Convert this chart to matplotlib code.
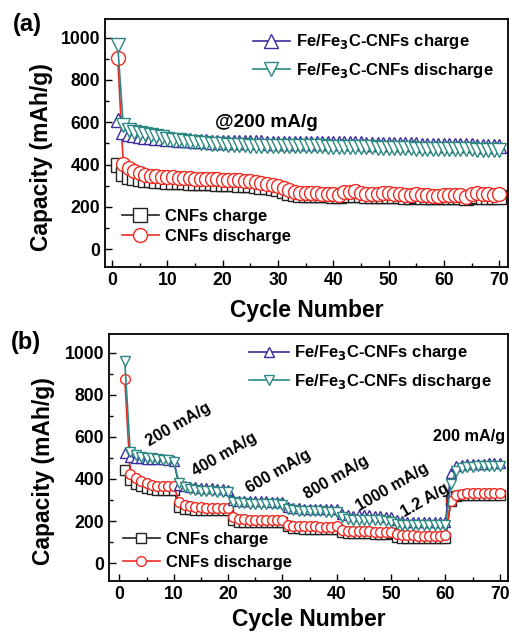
import numpy as np
import matplotlib
matplotlib.use('Agg')
import matplotlib.pyplot as plt
from matplotlib.ticker import MultipleLocator

plt.rcParams['font.family'] = ['Liberation Sans', 'DejaVu Sans']
plt.rcParams['font.weight'] = 'bold'
plt.rcParams['mathtext.default'] = 'bf'

cycles = np.arange(1, 71)

# (a) cycling at 200 mA/g
a_fe_chg = [610, 555, 545, 540, 535, 532, 530, 527, 525, 522, 520, 518, 516, 514, 512, 511, 510, 509, 508, 508,
            507, 507, 506, 506, 505, 505, 505, 504, 504, 504, 504, 503, 503, 503, 503, 503, 502, 502, 502, 502,
            501, 501, 500, 500, 500, 499, 498, 498, 497, 497, 496, 496, 495, 495, 495, 494, 494, 493, 493, 493,
            492, 492, 491, 491, 491, 490, 490, 490, 489, 489]
a_fe_dis = [965, 585, 565, 555, 548, 543, 538, 533, 528, 522, 518, 515, 512, 508, 505, 502, 500, 498, 496, 495,
            494, 493, 492, 491, 490, 490, 489, 489, 488, 488, 488, 487, 487, 487, 486, 486, 486, 486, 485, 485,
            485, 484, 484, 483, 483, 482, 481, 480, 480, 479, 478, 478, 477, 477, 476, 476, 475, 475, 474, 474,
            473, 473, 472, 472, 472, 471, 471, 470, 470, 470]
a_cnf_chg = [400, 355, 342, 336, 330, 327, 325, 323, 321, 320, 318, 317, 316, 315, 314, 313, 312, 311, 310, 308,
             307, 306, 305, 304, 303, 300, 296, 292, 288, 284, 276, 268, 260, 257, 256, 255, 255, 254, 254, 253,
             252, 255, 258, 258, 254, 252, 252, 252, 253, 253, 252, 250, 249, 248, 250, 247, 246, 246, 245, 245,
             246, 246, 245, 240, 248, 250, 249, 248, 247, 248]
a_cnf_dis = [905, 405, 385, 370, 360, 352, 348, 345, 343, 342, 340, 338, 336, 335, 334, 333, 332, 331, 330, 328,
             327, 326, 325, 324, 322, 318, 313, 307, 302, 298, 290, 280, 272, 268, 266, 265, 264, 263, 262, 261,
             258, 270, 272, 275, 265, 262, 262, 263, 264, 264, 262, 260, 258, 257, 262, 255, 254, 253, 253, 254,
             255, 256, 255, 245, 262, 265, 262, 260, 258, 260]

# (b) rate performance
b_fe_chg = [525, 505, 500, 498, 497, 496, 495, 493, 490, 485, 370, 365, 362, 360, 358, 357, 355, 354, 352, 350,
            300, 297, 296, 295, 295, 294, 294, 293, 293, 292, 265, 262, 261, 260, 260, 259, 259, 258, 258, 257,
            235, 228, 226, 228, 228, 227, 226, 225, 222, 218, 205, 200, 198, 198, 197, 197, 196, 196, 196, 196,
            430, 460, 468, 470, 472, 473, 473, 474, 474, 474]
b_fe_dis = [960, 530, 515, 505, 500, 498, 495, 492, 488, 480, 380, 360, 352, 348, 345, 343, 342, 340, 338, 336,
            290, 286, 284, 283, 282, 281, 280, 280, 279, 278, 258, 252, 250, 249, 248, 247, 246, 245, 244, 243,
            222, 212, 205, 205, 206, 206, 205, 204, 202, 198, 188, 182, 180, 180, 180, 180, 180, 180, 180, 180,
            375, 440, 452, 456, 458, 460, 460, 461, 461, 460]
b_cnf_chg = [445, 395, 378, 366, 358, 352, 349, 347, 346, 350, 265, 258, 256, 255, 255, 254, 254, 253, 253, 255,
             205, 198, 196, 195, 195, 195, 194, 194, 194, 196, 175, 168, 166, 165, 165, 165, 164, 164, 164, 165,
             150, 145, 143, 142, 142, 142, 141, 141, 141, 142, 125, 120, 119, 118, 118, 118, 118, 118, 118, 120,
             295, 318, 322, 323, 324, 324, 325, 325, 325, 325]
b_cnf_dis = [875, 425, 405, 390, 380, 373, 368, 366, 366, 368, 292, 276, 270, 267, 265, 264, 264, 263, 263, 263,
             220, 212, 209, 207, 206, 206, 205, 205, 205, 206, 182, 177, 176, 175, 175, 175, 174, 174, 174, 175,
             160, 154, 152, 152, 151, 151, 150, 150, 150, 150, 138, 133, 132, 132, 131, 131, 131, 131, 131, 132,
             295, 325, 330, 332, 333, 334, 334, 334, 333, 332]

rate_labels = ['200 mA/g', '400 mA/g', '600 mA/g', '800 mA/g', '1000 mA/g', '1.2 A/g']
rate_pos = [(10.8, 657), (19.4, 518), (29.2, 438), (40.0, 406), (50.2, 363), (56.3, 297)]

c_fe_chg = '#3b2c9e'
c_fe_dis = '#2a8880'
c_cnf_chg = '#222222'
c_cnf_dis = '#ee2b24'

W, H = 509, 634
fig = plt.figure(figsize=(W / 100, H / 100), dpi=100)


def px_box(l, t, r, b):
    return [l / W, 1 - b / H, (r - l) / W, (b - t) / H]


def draw(ax, fe_chg, fe_dis, cnf_chg, cnf_dis, ms, xpad):
    kw = dict(markerfacecolor='white', markeredgewidth=1.0, lw=1.2, ms=ms)
    l3, = ax.plot(cycles, cnf_chg, 's-', color=c_cnf_chg, label='CNFs charge', **kw)
    l4, = ax.plot(cycles, cnf_dis, 'o-', color=c_cnf_dis, label='CNFs discharge', **kw)
    l1, = ax.plot(cycles, fe_chg, '^-', color=c_fe_chg, label='Fe/Fe$_3$C-CNFs charge', **kw)
    l2, = ax.plot(cycles, fe_dis, 'v-', color=c_fe_dis, label='Fe/Fe$_3$C-CNFs discharge', **kw)
    ax.set_ylim(-84, 1088)
    ax.yaxis.set_major_locator(MultipleLocator(200))
    ax.yaxis.set_minor_locator(MultipleLocator(100))
    ax.xaxis.set_major_locator(MultipleLocator(10))
    ax.xaxis.set_minor_locator(MultipleLocator(5))
    ax.tick_params(which='both', direction='in', width=1.0, labelsize=12.7)
    ax.tick_params(which='major', length=5)
    ax.tick_params(which='minor', length=3)
    for s in ax.spines.values():
        s.set_linewidth(1.3)
    ax.set_xlabel('Cycle Number', fontsize=16.5, fontweight='bold', labelpad=xpad)
    ax.set_ylabel('Capacity (mAh/g)', fontsize=16.5, fontweight='bold')
    return l1, l2, l3, l4


ax1 = fig.add_axes(px_box(105, 19, 508, 267))
l1, l2, l3, l4 = draw(ax1, a_fe_chg, a_fe_dis, a_cnf_chg, a_cnf_dis, 10, 7)
ax1.set_xlim(-1.3, 71.6)
ax1.yaxis.set_label_coords(-0.129, 0.444)
ax1.text(18.6, 600, '@200 mA/g', fontsize=13.7, fontweight='bold', ha='left', va='center')
leg = ax1.legend([l1, l2], [l1.get_label(), l2.get_label()], loc='center left',
                 bbox_to_anchor=(253 / W, 1 - 56 / H), bbox_transform=fig.transFigure,
                 frameon=False, fontsize=12, handlelength=2.2, handletextpad=0.4,
                 labelspacing=0.55, borderpad=0, borderaxespad=0)
ax1.add_artist(leg)
ax1.legend([l3, l4], [l3.get_label(), l4.get_label()], loc='center left',
           bbox_to_anchor=(122 / W, 1 - 226 / H), bbox_transform=fig.transFigure,
           frameon=False, fontsize=12, handlelength=2.2, handletextpad=0.4,
           labelspacing=0.3, borderpad=0, borderaxespad=0)

ax2 = fig.add_axes(px_box(109, 334, 508, 581))
m1, m2, m3, m4 = draw(ax2, b_fe_chg, b_fe_dis, b_cnf_chg, b_cnf_dis, 7, 4)
ax2.set_xlim(-1.9, 71.5)
ax2.yaxis.set_label_coords(-0.135, 0.445)
for lab, (x, y) in zip(rate_labels, rate_pos):
    ax2.text(x, y, lab, fontsize=11.7, fontweight='bold', rotation=30,
             ha='center', va='center', rotation_mode='anchor')
ax2.text(64.3, 604, '200 mA/g', fontsize=11.7, fontweight='bold', ha='center', va='center')
leg = ax2.legend([m1, m2], [m1.get_label(), m2.get_label()], loc='center left',
                 bbox_to_anchor=(249 / W, 1 - 367 / H), bbox_transform=fig.transFigure,
                 frameon=False, fontsize=12, handlelength=2.4, handletextpad=0.3,
                 labelspacing=0.55, borderpad=0, borderaxespad=0)
ax2.add_artist(leg)
ax2.legend([m3, m4], [m3.get_label(), m4.get_label()], loc='center left',
           bbox_to_anchor=(123 / W, 1 - 551 / H), bbox_transform=fig.transFigure,
           frameon=False, fontsize=12, handlelength=2.2, handletextpad=0.4,
           labelspacing=0.45, borderpad=0, borderaxespad=0)

fig.text(13 / W, 1 - 25 / H, '(a)', fontsize=17, fontweight='bold', ha='left', va='center')
fig.text(11 / W, 1 - 343 / H, '(b)', fontsize=17, fontweight='bold', ha='left', va='center')

fig.savefig('out.png', dpi=100)
